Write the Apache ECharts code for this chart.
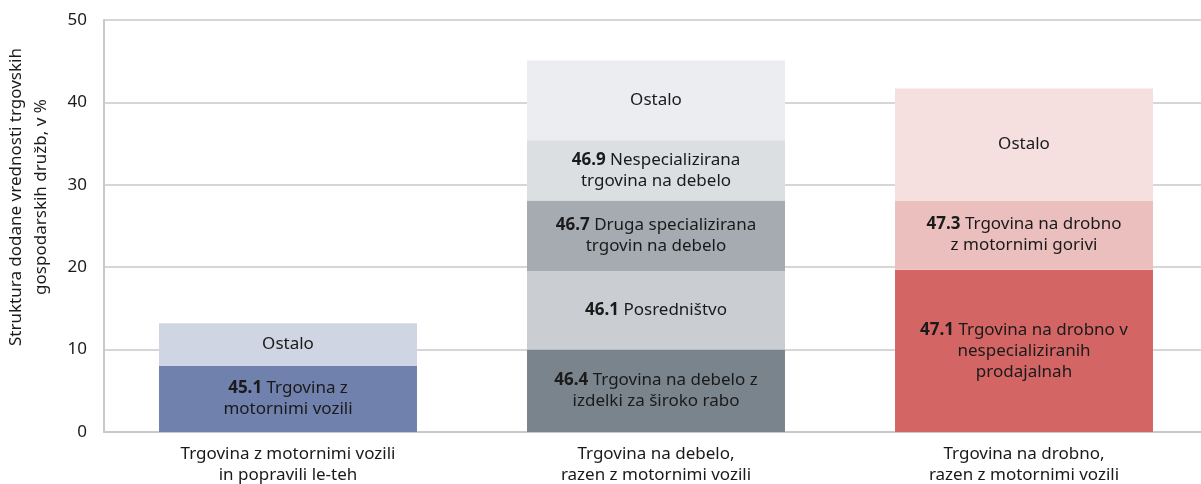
<!DOCTYPE html>
<html>
<head>
<meta charset="utf-8">
<script src="https://cdn.jsdelivr.net/npm/echarts@6/dist/echarts.min.js"></script>
<style>
  html, body { margin: 0; padding: 0; background: #fff; }
  #chart { width: 1201px; height: 484px; }
</style>
</head>
<body>
<div id="chart"></div>
<script>
// kategorije (os x)
var categories = [
  'Trgovina z motornimi vozili\nin popravili le-teh',
  'Trgovina na debelo,\nrazen z motornimi vozili',
  'Trgovina na drobno,\nrazen z motornimi vozili'
];
var yTicks = [0, 10, 20, 30, 40, 50];

// segmenti po stolpcih, od spodaj navzgor
var motorValues = [8.0, 5.2];
var motorCodes = ['45.1', ''];
var motorNames = ['Trgovina z\nmotornimi vozili', 'Ostalo'];

var debeloValues = [10.0, 9.5, 8.6, 7.3, 9.7];
var debeloCodes = ['46.4', '46.1', '46.7', '46.9', ''];
var debeloNames = ['Trgovina na debelo z\nizdelki za široko rabo', 'Posredništvo',
  'Druga specializirana\ntrgovin na debelo', 'Nespecializirana\ntrgovina na debelo', 'Ostalo'];

var drobnoValues = [19.7, 8.4, 13.6];
var drobnoCodes = ['47.1', '47.3', ''];
var drobnoNames = ['Trgovina na drobno v\nnespecializiranih\nprodajalnah',
  'Trgovina na drobno\nz motornimi gorivi', 'Ostalo'];

// barve
var motorColors = ['#7181ad', '#cfd5e3'];
var debeloColors = ['#7a848d', '#cacdd2', '#a6abb1', '#dcdfe2', '#ecedf0'];
var drobnoColors = ['#d46565', '#ecbfbf', '#f5dfdf'];

function labelText(code, name) {
  if (!code) return name;
  var lines = name.split('\n');
  lines[0] = '{b|' + code + '} ' + lines[0];
  return lines.join('\n');
}

var series = [];
function addSegments(catIdx, values, codes, names, colors) {
  values.forEach(function (v, i) {
    var data = [null, null, null];
    data[catIdx] = v;
    series.push({
      type: 'bar',
      stack: 'all',
      name: names[i],
      data: data,
      barWidth: '70.1%',
      itemStyle: { color: colors[i] },
      label: {
        show: true,
        position: 'inside',
        formatter: labelText(codes[i], names[i]),
        color: '#1a1a1a',
        fontFamily: 'Noto Sans',
        fontSize: 17,
        lineHeight: 21,
        rich: {
          b: { fontWeight: 'bold', fontFamily: 'Noto Sans', fontSize: 17, lineHeight: 21, color: '#1a1a1a' }
        }
      }
    });
  });
}
addSegments(0, motorValues, motorCodes, motorNames, motorColors);
addSegments(1, debeloValues, debeloCodes, debeloNames, debeloColors);
addSegments(2, drobnoValues, drobnoCodes, drobnoNames, drobnoColors);

var myChart = echarts.init(document.getElementById('chart'));
myChart.setOption({
  animation: false,
  grid: { left: 104, right: -7, top: 20, bottom: 52, outerBoundsMode: 'none', containLabel: false },
  xAxis: {
    type: 'category',
    data: categories,
    axisLine: { lineStyle: { color: '#c8c8c8', width: 2 } },
    axisTick: { show: false },
    axisLabel: {
      color: '#1a1a1a', fontFamily: 'Noto Sans', fontSize: 17, lineHeight: 21, margin: 12
    }
  },
  yAxis: {
    type: 'value',
    min: yTicks[0],
    max: yTicks[yTicks.length - 1],
    interval: 10,
    axisLine: { show: true, lineStyle: { color: '#c8c8c8', width: 2 } },
    axisTick: { show: false },
    splitLine: { lineStyle: { color: '#c8c8c8', width: 1.5 } },
    axisLabel: { color: '#1a1a1a', fontFamily: 'Noto Sans', fontSize: 17, margin: 17 }
  },
  graphic: [{
    type: 'text',
    x: 29,
    y: 197,
    rotation: Math.PI / 2,
    style: {
      text: 'Struktura dodane vrednosti trgovskih\ngospodarskih družb, v %',
      fill: '#1a1a1a',
      font: '17px "Noto Sans"',
      lineHeight: 25,
      align: 'center',
      verticalAlign: 'middle'
    }
  }],
  series: series
});
</script>
</body>
</html>
